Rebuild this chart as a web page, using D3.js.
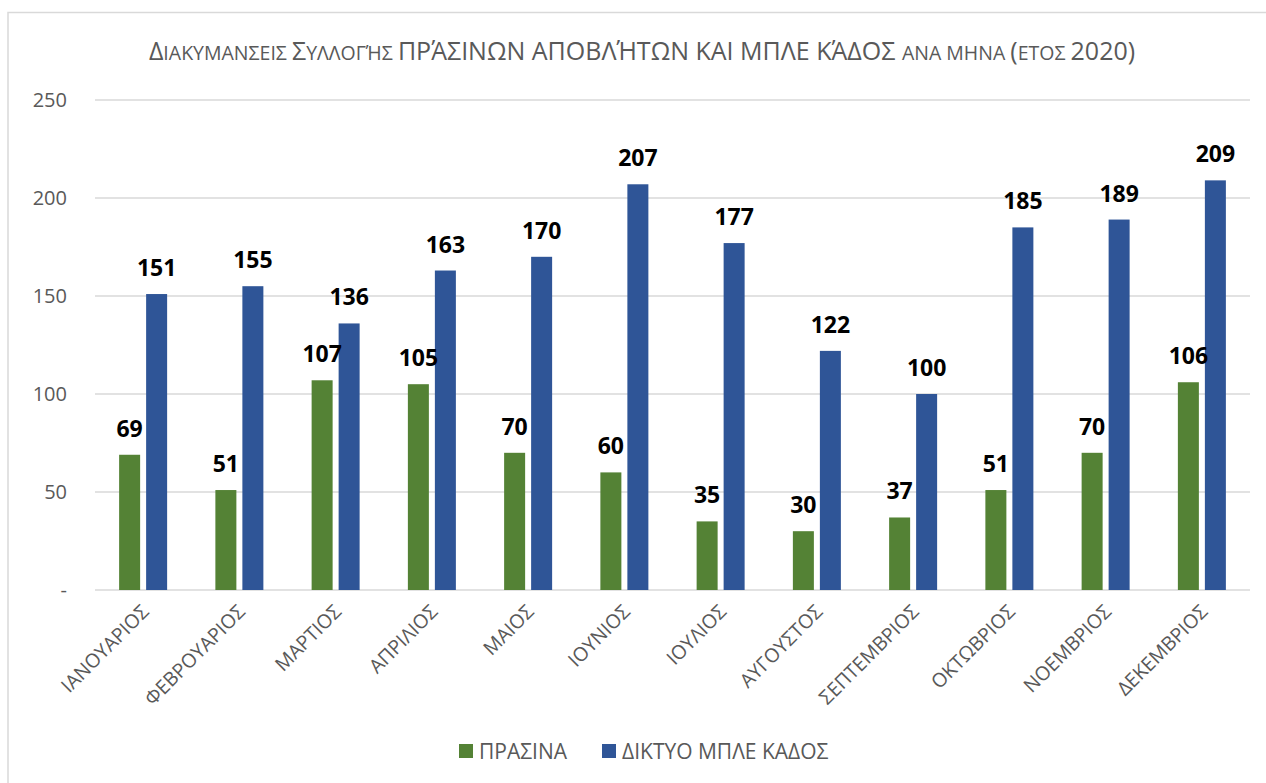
<!DOCTYPE html>
<html>
<head>
<meta charset="utf-8">
<script src="https://cdn.jsdelivr.net/npm/d3@7"></script>
<style>
  body { margin: 0; background: #fff; }
  svg { display: block; font-family: "Open Sans", sans-serif; }
</style>
</head>
<body>
<svg id="chart"></svg>
<script>
// data
const months = ["ΙΑΝΟΥΑΡΙΟΣ", "ΦΕΒΡΟΥΑΡΙΟΣ", "ΜΑΡΤΙΟΣ", "ΑΠΡΙΛΙΟΣ", "ΜΑΙΟΣ", "ΙΟΥΝΙΟΣ",
  "ΙΟΥΛΙΟΣ", "ΑΥΓΟΥΣΤΟΣ", "ΣΕΠΤΕΜΒΡΙΟΣ", "ΟΚΤΩΒΡΙΟΣ", "ΝΟΕΜΒΡΙΟΣ", "ΔΕΚΕΜΒΡΙΟΣ"];
const seriesNames = ["ΠΡΑΣΙΝΑ", "ΔΙΚΤΥΟ ΜΠΛΕ ΚΑΔΟΣ"];
const prasina = [69, 51, 107, 105, 70, 60, 35, 30, 37, 51, 70, 106];
const mpleKados = [151, 155, 136, 163, 170, 207, 177, 122, 100, 185, 189, 209];
const yTicks = [0, 50, 100, 150, 200, 250];
const colors = ["#548235", "#2f5597"];

const w = 1266, h = 783;
const mLeft = 95, mRight = 1250, mTop = 100, mBottom = 590;

const svg = d3.select("#chart").attr("width", w).attr("height", h);

// outer frame (only top and left edges are visible in the crop)
svg.append("rect")
  .attr("x", 8).attr("y", 12.5)
  .attr("width", w + 20).attr("height", h + 20)
  .attr("fill", "none")
  .attr("stroke", "#d9d9d9")
  .attr("stroke-width", 1.5);

const x0 = d3.scaleBand().domain(months).range([mLeft, mRight]);
const x1 = d3.scaleBand().domain(seriesNames).range([0, 48]).paddingInner(6 / 27);
const y = d3.scaleLinear().domain([0, 250]).range([mBottom, mTop]);

// gridlines
svg.append("g")
  .selectAll("line")
  .data(yTicks)
  .enter()
  .append("line")
  .attr("x1", mLeft).attr("x2", mRight)
  .attr("y1", d => y(d)).attr("y2", d => y(d))
  .attr("stroke", "#d9d9d9")
  .attr("stroke-width", 1.5);

// y axis labels
const yAxis = d3.axisLeft(y).tickValues(yTicks).tickSize(0).tickPadding(0)
  .tickFormat(d => d === 0 ? "-" : d);
const gy = svg.append("g").attr("transform", "translate(67,0)").call(yAxis);
gy.select(".domain").remove();
gy.selectAll("text")
  .attr("fill", "#595959")
  .style("font-family", "Open Sans")
  .style("font-size", "20px");

// bars
const rows = months.map((m, i) => ({ month: m, values: [prasina[i], mpleKados[i]] }));
const groups = svg.append("g")
  .selectAll("g")
  .data(rows)
  .enter()
  .append("g")
  .attr("transform", d => `translate(${x0(d.month) + x0.bandwidth() / 2 - 24},0)`);

groups.selectAll("rect")
  .data(d => d.values.map((v, j) => ({ key: seriesNames[j], v: v, j: j })))
  .enter()
  .append("rect")
  .attr("x", d => x1(d.key))
  .attr("y", d => y(d.v))
  .attr("width", x1.bandwidth())
  .attr("height", d => y(0) - y(d.v))
  .attr("fill", d => colors[d.j]);

groups.selectAll("text")
  .data(d => d.values.map((v, j) => ({ key: seriesNames[j], v: v, j: j })))
  .enter()
  .append("text")
  .attr("x", d => x1(d.key) + x1.bandwidth() / 2)
  .attr("y", d => y(d.v) - 18)
  .attr("text-anchor", "middle")
  .style("font-size", "23px")
  .style("font-weight", "bold")
  .attr("fill", "#000")
  .text(d => d.v);

// x axis labels (rotated)
svg.append("g")
  .selectAll("text")
  .data(months)
  .enter()
  .append("text")
  .attr("transform", d => `translate(${x0(d) + x0.bandwidth() / 2 + 7},613) rotate(-45)`)
  .attr("text-anchor", "end")
  .attr("fill", "#595959")
  .style("font-size", "19.5px")
  .text(d => d);

// title with small-caps emulation
const title = svg.append("text")
  .attr("x", 642).attr("y", 60)
  .attr("text-anchor", "middle")
  .attr("fill", "#595959");
const big = "25px", small = "19.5px";
[["Δ", big], ["ΙΑΚΥΜΑΝΣΕΙΣ ", small], ["Σ", big], ["ΥΛΛΟΓΉΣ ", small],
 ["ΠΡΆΣΙΝΩΝ ΑΠΟΒΛΉΤΩΝ ΚΑΙ ΜΠΛΕ ΚΆΔΟΣ ", big], ["ΑΝΑ ΜΗΝΑ ", small],
 ["(", big], ["ΕΤΟΣ ", small], ["2020)", big]].forEach(p => {
  title.append("tspan").style("font-size", p[1]).text(p[0]);
});

// legend
const legend = svg.append("g").attr("transform", "translate(0,744)");
const legX = [459, 602];
seriesNames.forEach((s, i) => {
  legend.append("rect")
    .attr("x", legX[i]).attr("y", 0)
    .attr("width", 14).attr("height", 14)
    .attr("fill", colors[i]);
  legend.append("text")
    .attr("x", legX[i] + 20).attr("y", 14.5)
    .attr("fill", "#595959")
    .style("font-size", "21px")
    .text(s);
});
</script>
</body>
</html>
